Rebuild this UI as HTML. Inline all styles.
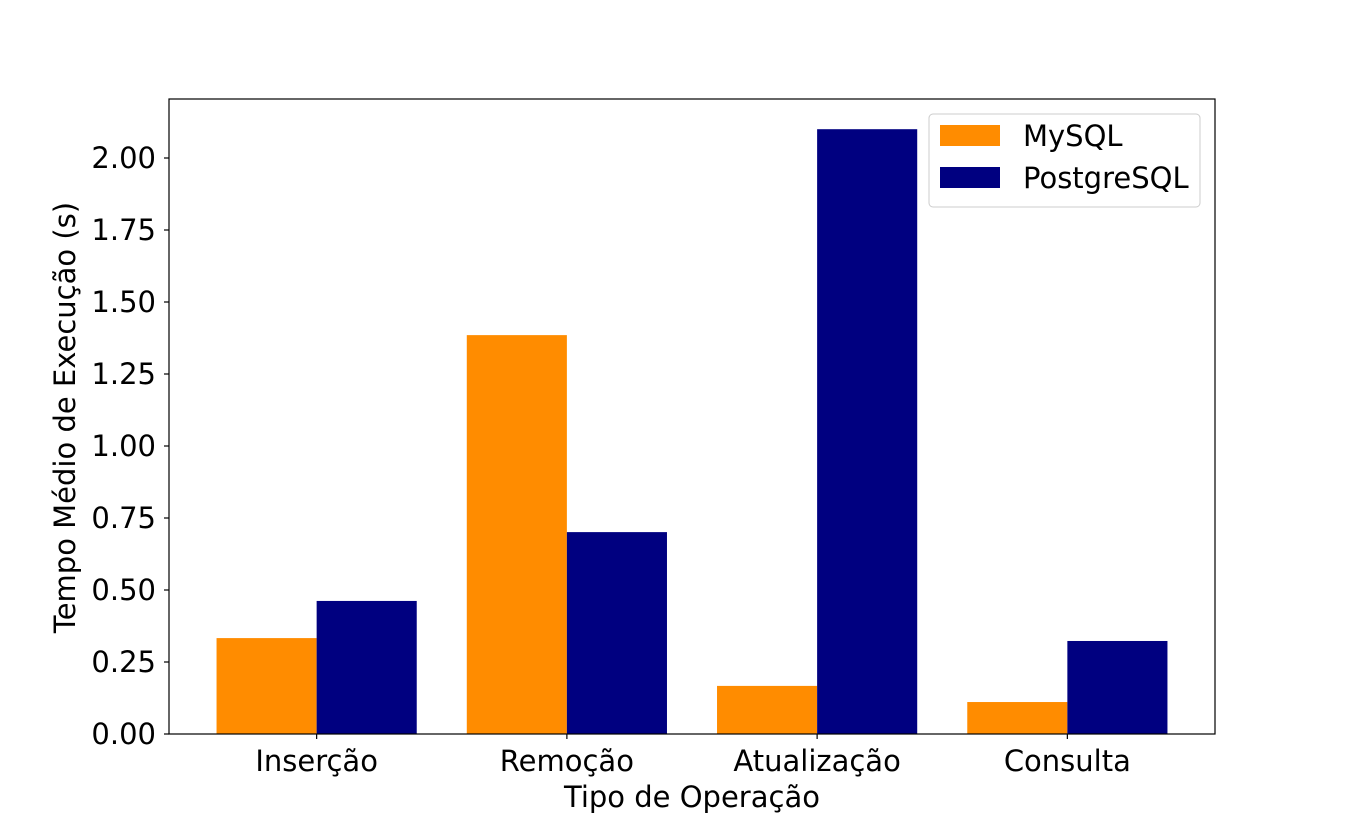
<!DOCTYPE html>
<html><head><meta charset="utf-8"><style>
body{margin:0;background:#fff}
svg{display:block;font-family:"DejaVu Sans","Liberation Sans",sans-serif}
</style></head><body>
<svg id="chart" width="1350" height="825"></svg>
<script>
const categories=["Inserção","Remoção","Atualização","Consulta"];
const mysqlValues=[0.333,1.385,0.167,0.111];
const postgresValues=[0.462,0.701,2.10,0.323];
const yTicks=[0,0.25,0.5,0.75,1.0,1.25,1.5,1.75,2.0];
const seriesNames=["MySQL","PostgreSQL"];
const seriesColors=["#ff8c00","#000080"];

const NS="http://www.w3.org/2000/svg";
const svg=document.getElementById('chart');
const L=169,R=1215,T=99,B=734;
const xMin=-0.59,xMax=3.59,yMax=(B-T)/288;
const xs=v=>L+(v-xMin)/(xMax-xMin)*(R-L);
const ys=v=>B-v/yMax*(B-T);
function mk(tag,attrs,parent){const e=document.createElementNS(NS,tag);for(const k in attrs)e.setAttribute(k,attrs[k]);(parent||svg).appendChild(e);return e;}
const FS=29;

[mysqlValues,postgresValues].forEach((vals,s)=>{
  vals.forEach((v,i)=>{
    const x0=xs(i-0.4+s*0.4),x1=xs(i+s*0.4);
    const r=mk('rect',{x:x0,y:ys(v),width:x1-x0,height:ys(0)-ys(v),fill:seriesColors[s]});
    
    
  });
});
const frame=mk('rect',{x:L,y:T,width:R-L,height:B-T,fill:'none',stroke:'#000','stroke-width':1.2});



yTicks.forEach(t=>{
  const y=ys(t);
  mk('line',{x1:L-5,x2:L,y1:y,y2:y,stroke:'#000','stroke-width':1.2});
  const tx=mk('text',{x:L-13,y:y+10,'text-anchor':'end','font-size':FS});
  tx.textContent=t.toFixed(2);
  
  
});
categories.forEach((c,i)=>{
  const cx=(xs(i-0.4)+xs(i+0.4))/2;
  mk('line',{x1:cx,x2:cx,y1:B,y2:B+5,stroke:'#000','stroke-width':1.2});
  const tx=mk('text',{x:cx,y:B+37,'text-anchor':'middle','font-size':FS});
  tx.textContent=c;
  
  
});
const xt=mk('text',{x:(L+R)/2,y:807,'text-anchor':'middle','font-size':FS});
xt.textContent="Tipo de Operação";


const yt=mk('text',{x:0,y:0,'text-anchor':'middle','font-size':FS,transform:`translate(75,${(T+B)/2+1}) rotate(-90)`});
yt.textContent="Tempo Médio de Execução (s)";



const lg=mk('g',{});


mk('rect',{x:929,y:114,width:271,height:93,rx:4,fill:'#fff','fill-opacity':0.8,stroke:'#ccc'},lg);
seriesNames.forEach((n,i)=>{
  const y=125+i*42;
  const sw=mk('rect',{x:940,y:y,width:60,height:21,fill:seriesColors[i]},lg);
  
  
  const tx=mk('text',{x:1023,y:y+21,'font-size':FS},lg);
  tx.textContent=n;
  
  
});
</script>
</body></html>
